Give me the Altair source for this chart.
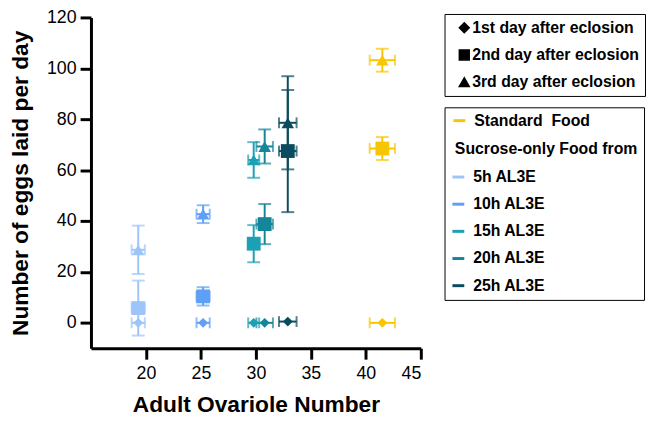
import altair as alt
import pandas as pd

# ---- data ----
groups = ["5h AL3E", "10h AL3E", "15h AL3E", "20h AL3E", "25h AL3E", "Standard\u00a0 Food"]
colors = ["#9EC5FA", "#5EA0F5", "#1CA0B4", "#15869A", "#0B4B5E", "#F8C600"]
ovariole = [19.3, 25.2, 29.8, 30.8, 32.9, 41.5]
ovariole_err = [0.6, 0.6, 0.5, 0.75, 0.8, 1.15]

days = ["1st day after eclosion", "2nd day after eclosion", "3rd day after eclosion"]
shapes = ["diamond", "square", "triangle-up"]
marker_sizes = [100, 196, 160]

eggs_day1 = [0, 0, 0, 0, 0.5, 0]
eggs_day1_err = [0, 0, 0, 0, 0, 0]
eggs_day2 = [5.8, 10.4, 31.1, 38.8, 67.5, 68.5]
eggs_day2_err = [10.8, 3.6, 7.3, 7.9, 24.0, 4.5]
eggs_day3 = [28.7, 42.7, 64.0, 69.3, 78.6, 103.2]
eggs_day3_err = [9.5, 3.5, 7.0, 6.7, 18.3, 4.5]

x_ticks = [20, 25, 30, 35, 40, 45]
y_ticks = [0, 20, 40, 60, 80, 100, 120]

rows = []
for d, ms, vals, errs in zip(days, marker_sizes, [eggs_day1, eggs_day2, eggs_day3],
                             [eggs_day1_err, eggs_day2_err, eggs_day3_err]):
    for g, xo, xe, v, e in zip(groups, ovariole, ovariole_err, vals, errs):
        rows.append({"group": g, "ovariole": xo, "xerr": xe, "day": d,
                     "msize": ms, "eggs": v, "yerr": e})
df = pd.DataFrame(rows)

FONT = "Liberation Sans"
XTITLE = "Adult Ovariole Number"
YTITLE = "Number of eggs laid per day"
LFS = 16

xaxis = alt.Axis(values=x_ticks, title=XTITLE)
yaxis = alt.Axis(values=y_ticks, title=YTITLE)
xscale = alt.Scale(domain=[15, 45], nice=False, zero=False)
yscale = alt.Scale(domain=[-10, 120], nice=False, zero=False)

SYM_LINE = "M-1,-0.25H1V0.25H-1Z"


def X(field):
    return alt.X(field, type="quantitative", scale=xscale, axis=xaxis, title=XTITLE)


def Y(field):
    return alt.Y(field, type="quantitative", scale=yscale, axis=yaxis, title=YTITLE)


shape_legend = alt.Legend(
    orient="none", legendX=358, legendY=-3.5, title=None,
    strokeColor="black", padding=6,
    symbolSize=100, symbolOffset=6, labelOffset=0,
    rowPadding=11.5, fillColor="white",
    symbolFillColor="black", symbolStrokeColor="black",
)
std_legend = alt.Legend(
    orient="none", legendX=365, legendY=96.5, title=None, padding=0,
    symbolType=SYM_LINE, symbolSize=144, symbolStrokeWidth=0,
    labelOffset=7, symbolOffset=0,
)
suc_legend = alt.Legend(
    orient="none", legendX=358, legendY=91,
    title=["", "\u200b\u00a0Sucrose-only Food from"],
    strokeColor="black", padding=6, fillColor="white",
    symbolType=SYM_LINE, symbolSize=144, symbolStrokeWidth=0,
    symbolOffset=0, labelOffset=7, rowPadding=11.5,
    titleLineHeight=28.3, titlePadding=12.3, titleLimit=400,
)


def group_layers(sub, domain, rng, legend, with_shape_legend):
    base = alt.Chart(sub).transform_calculate(
        ylo="datum.eggs - datum.yerr",
        yhi="datum.eggs + datum.yerr",
        xlo="datum.ovariole - datum.xerr",
        xhi="datum.ovariole + datum.xerr",
    )

    def col(leg=None):
        return alt.Color("group:N", scale=alt.Scale(domain=domain, range=rng), legend=leg)

    ybars = base.transform_filter("datum.yerr > 0")
    layers = [
        ybars.mark_rule(strokeWidth=2).encode(
            x=X("ovariole"), y=Y("ylo:Q"), y2="yhi:Q", color=col()),
        base.mark_rule(strokeWidth=2).encode(
            x=X("xlo:Q"), x2="xhi:Q", y=Y("eggs"), color=col()),
        ybars.mark_tick(orient="horizontal", size=13, thickness=2).encode(
            x=X("ovariole"), y=Y("ylo:Q"), color=col()),
        ybars.mark_tick(orient="horizontal", size=13, thickness=2).encode(
            x=X("ovariole"), y=Y("yhi:Q"), color=col()),
        base.mark_tick(orient="vertical", size=11, thickness=2).encode(
            x=X("xlo:Q"), y=Y("eggs"), color=col()),
        base.mark_tick(orient="vertical", size=11, thickness=2).encode(
            x=X("xhi:Q"), y=Y("eggs"), color=col()),
    ]
    shp = alt.Shape("day:N", scale=alt.Scale(domain=days, range=shapes),
                    legend=shape_legend if with_shape_legend else None)
    layers.append(base.mark_point(filled=True, opacity=1).encode(
        x=X("ovariole"), y=Y("eggs"), color=col(legend), shape=shp,
        size=alt.Size("msize:Q", scale=None),
    ))
    return layers


std_df = df[df["group"] == groups[-1]]
suc_df = df[df["group"] != groups[-1]]

all_layers = (group_layers(suc_df, groups[:-1], colors[:-1], suc_legend, True)
              + group_layers(std_df, groups[-1:], colors[-1:], std_legend, False))

chart = alt.layer(*all_layers).resolve_scale(color="independent").resolve_legend(
    color="independent"
).properties(
    width=334, height=335,
    autosize=alt.AutoSizeParams(type="none"),
    padding={"left": 84, "top": 7, "right": 228, "bottom": 66},
).configure_view(stroke=None).configure_axis(
    domainColor="black", domainWidth=3, tickColor="black", tickWidth=3, tickSize=11,
    labelFont=FONT, labelFontSize=18, labelColor="black", labelPadding=2,
    titleFont=FONT, titleFontSize=23, titleFontWeight="bold", titleColor="black",
    grid=False,
).configure_axisX(labelPadding=6, titlePadding=11).configure_axisY(labelPadding=4, titlePadding=14).configure_legend(
    labelFont=FONT, labelFontSize=LFS, labelFontWeight="bold", labelColor="black",
    titleFont=FONT, titleFontSize=LFS, titleFontWeight="bold", titleColor="black",
    labelLimit=400, titleLimit=400,
)

chart.save("out.html", embed_options={"renderer": "svg", "actions": False})
